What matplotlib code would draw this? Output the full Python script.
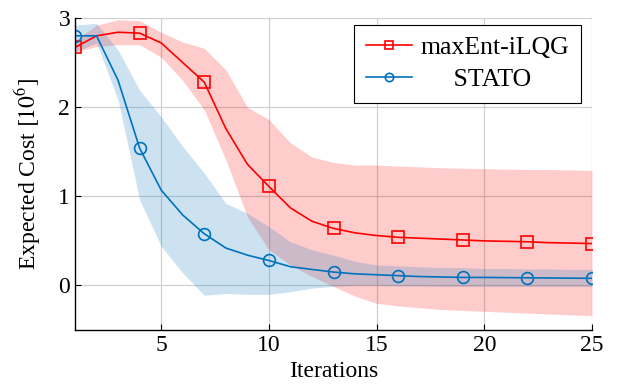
import numpy as np
import matplotlib
matplotlib.use("Agg")
import matplotlib.pyplot as plt
from matplotlib.lines import Line2D

plt.rcParams['font.family'] = ['Liberation Serif', 'DejaVu Serif']
plt.rcParams['mathtext.fontset'] = 'stix'

# iterations
iters = np.arange(1, 26)

# maxEnt-iLQG mean and band
ilqg_mean = [2.67, 2.80, 2.84, 2.83, 2.72, 2.50, 2.28, 1.76, 1.36, 1.11, 0.87, 0.72, 0.64,
             0.59, 0.56, 0.54, 0.53, 0.52, 0.51, 0.50, 0.495, 0.49, 0.48, 0.475, 0.47]
ilqg_upper = [2.75, 2.92, 2.98, 2.97, 2.84, 2.73, 2.66, 2.42, 2.00, 1.86, 1.60, 1.44, 1.38,
              1.35, 1.35, 1.34, 1.33, 1.32, 1.315, 1.31, 1.305, 1.30, 1.30, 1.295, 1.29]
ilqg_lower = [2.62, 2.68, 2.70, 2.70, 2.56, 2.30, 1.97, 1.41, 0.77, 0.40, 0.23, 0.10, -0.01,
              -0.12, -0.20, -0.23, -0.25, -0.27, -0.28, -0.29, -0.30, -0.31, -0.32, -0.33, -0.34]

# STATO mean and band
stato_mean = [2.80, 2.80, 2.30, 1.54, 1.07, 0.79, 0.58, 0.42, 0.34, 0.28, 0.21, 0.18, 0.15,
              0.13, 0.12, 0.11, 0.10, 0.095, 0.09, 0.09, 0.088, 0.086, 0.084, 0.082, 0.08]
stato_upper = [2.92, 2.94, 2.64, 2.19, 1.89, 1.56, 1.26, 0.92, 0.81, 0.66, 0.49, 0.40, 0.34,
               0.27, 0.23, 0.22, 0.21, 0.20, 0.20, 0.19, 0.19, 0.185, 0.185, 0.18, 0.18]
stato_lower = [2.62, 2.72, 2.08, 0.96, 0.44, 0.14, -0.11, -0.09, -0.10, -0.10, -0.07, -0.03, -0.01,
               0.0, 0.0, -0.005, -0.005, -0.01, -0.01, -0.01, -0.01, -0.01, -0.01, -0.01, -0.01]

red = '#ff0000'
blue = '#0072bd'

fig = plt.figure(figsize=(6.21, 3.86), dpi=100)
ax = fig.add_axes([0.1208, 0.145, 0.8325, 0.8084])

ax.fill_between(iters, ilqg_lower, ilqg_upper, color=red, alpha=0.2, linewidth=0)
ax.fill_between(iters, stato_lower, stato_upper, color=blue, alpha=0.2, linewidth=0)

ax.plot(iters, ilqg_mean, color=red, lw=1.2, marker='s', markevery=3, ms=8.5,
        mfc='none', mew=1.2)
ax.plot(iters, stato_mean, color=blue, lw=1.2, marker='o', markevery=3, ms=8.5,
        mfc='none', mew=1.2)

ax.set_xlim(1, 25)
ax.set_ylim(-0.5, 3)
ax.set_xticks([5, 10, 15, 20, 25])
ax.set_yticks([0, 1, 2, 3])
ax.grid(True, color='#d0d0d0', linewidth=0.9)
ax.set_axisbelow(True)
for s in ['top', 'right']:
    ax.spines[s].set_visible(False)
ax.spines['left'].set_linewidth(1.0)
ax.spines['bottom'].set_linewidth(1.0)
ax.tick_params(direction='in', length=4, labelsize=17, colors='black')

ax.set_xlabel('Iterations', fontsize=17, labelpad=4)
ax.set_ylabel('Expected Cost $[10^6]$', fontsize=17, labelpad=11)

# legend handles with smaller markers
handles = [Line2D([], [], color=red, lw=1.2, marker='s', ms=6, mfc='none', mew=1.2),
           Line2D([], [], color=blue, lw=1.2, marker='o', ms=6, mfc='none', mew=1.2)]
leg = ax.legend(handles, ['maxEnt-iLQG', '     STATO'], loc='upper right',
                bbox_to_anchor=(0.979, 0.978), borderaxespad=0,
                fontsize=18.5, fancybox=False, edgecolor='black', framealpha=1,
                handlelength=1.8, handletextpad=0.35, borderpad=0.45, labelspacing=0.35)
leg.get_frame().set_linewidth(0.8)

plt.savefig('out.png', dpi=100)
